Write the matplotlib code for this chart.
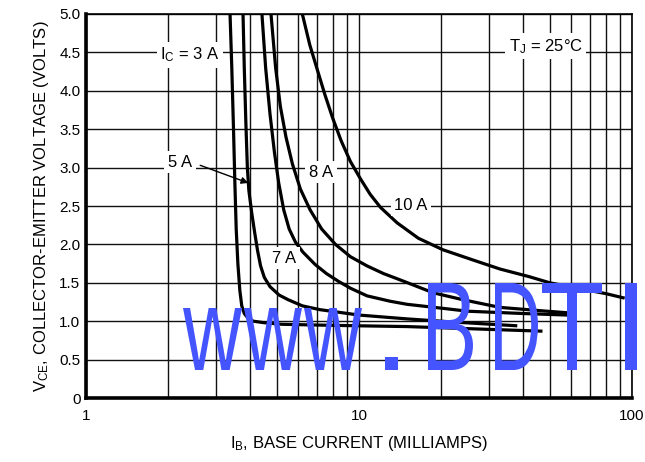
import matplotlib
matplotlib.use("Agg")
import matplotlib.pyplot as plt
from matplotlib.textpath import TextPath
from matplotlib.patches import PathPatch
from matplotlib.font_manager import FontProperties
from matplotlib.transforms import Affine2D, IdentityTransform
from matplotlib.ticker import FixedLocator, LogLocator, NullFormatter

plt.rcParams["font.family"] = ["Liberation Sans Narrow", "Liberation Sans", "DejaVu Sans"]
plt.rcParams["mathtext.fontset"] = "custom"
plt.rcParams["mathtext.rm"] = "Liberation Sans"
plt.rcParams["mathtext.it"] = "Liberation Sans"

# ---------------- data ---------------- #

ib_3a = [3.37, 3.42, 3.47, 3.51, 3.55, 3.60, 3.66, 3.72, 3.80, 3.92, 4.1, 4.5, 5.2, 7, 10, 15, 22, 32, 47]
vce_3a = [5.0, 4.3, 3.5, 2.8, 2.2, 1.75, 1.4, 1.2, 1.1, 1.04, 1.0, 0.98, 0.96, 0.95, 0.94, 0.93, 0.91, 0.89, 0.87]

ib_5a = [3.76, 3.80, 3.85, 3.90, 3.95, 4.05, 4.15, 4.25, 4.36, 4.5, 4.72, 5.1, 5.5, 6.2, 7.2, 10, 15, 22, 38]
vce_5a = [5.0, 4.3, 3.6, 3.0, 2.7, 2.4, 2.15, 1.92, 1.72, 1.57, 1.45, 1.34, 1.28, 1.2, 1.15, 1.08, 1.03, 0.99, 0.94]

ib_7a = [4.41, 4.55, 4.72, 4.9, 5.08, 5.3, 5.55, 5.85, 6.23, 6.9, 7.6, 8.4, 9.3, 10.7, 13, 15, 20, 25, 40, 58]
vce_7a = [5.0, 4.3, 3.7, 3.2, 2.8, 2.45, 2.2, 2.03, 1.9, 1.74, 1.62, 1.52, 1.43, 1.33, 1.26, 1.22, 1.17, 1.13, 1.1, 1.08]

ib_8a = [4.76, 4.95, 5.15, 5.4, 5.7, 6.1, 6.62, 7.3, 8.2, 9.3, 10.7, 12.3, 14.1, 18.7, 24, 32.8, 45, 57.8]
vce_8a = [5.0, 4.3, 3.8, 3.4, 3.05, 2.72, 2.45, 2.2, 2.0, 1.84, 1.72, 1.62, 1.54, 1.37, 1.28, 1.18, 1.14, 1.11]

ib_10a = [6.2, 6.6, 7.0, 7.5, 8.0, 8.6, 9.3, 10.1, 11.0, 12.0, 13.8, 16.5, 20.3, 26, 32.8, 42, 50, 65, 80, 94]
vce_10a = [5.0, 4.6, 4.3, 3.95, 3.65, 3.35, 3.08, 2.86, 2.65, 2.48, 2.28, 2.08, 1.93, 1.8, 1.68, 1.58, 1.5, 1.42, 1.36, 1.30]

y_ticks = [0, 0.5, 1.0, 1.5, 2.0, 2.5, 3.0, 3.5, 4.0, 4.5, 5.0]
y_tick_labels = ["0", "0.5", "1.0", "1.5", "2.0", "2.5", "3.0", "3.5", "4.0", "4.5", "5.0"]
x_ticks = [1, 10, 100]
x_tick_labels = ["1", "10", "100"]

# ---------------- figure ---------------- #

fig = plt.figure(figsize=(6.45, 4.62), dpi=100)
ax = fig.add_axes([86 / 645, 64 / 462, 546 / 645, 384 / 462])

ax.set_xscale("log")
ax.set_xlim(1, 100)
ax.set_ylim(0, 5)

ax.xaxis.set_major_locator(FixedLocator(x_ticks))
ax.set_xticklabels(x_tick_labels)
ax.xaxis.set_minor_locator(LogLocator(base=10, subs=range(2, 10)))
ax.xaxis.set_minor_formatter(NullFormatter())
ax.set_yticks(y_ticks)
ax.set_yticklabels(y_tick_labels)
ax.tick_params(which="both", length=0, labelsize=11)
ax.tick_params(axis="x", pad=8)
ax.tick_params(axis="y", pad=4)

ax.grid(True, which="both", axis="x", color="#111111", linewidth=1.0)
ax.grid(True, which="major", axis="y", color="#111111", linewidth=1.0)
ax.set_axisbelow(True)

for side in ["left", "bottom"]:
    ax.spines[side].set_linewidth(2.6)
for side in ["top", "right"]:
    ax.spines[side].set_linewidth(1.2)

for ib, vce in [(ib_3a, vce_3a), (ib_5a, vce_5a), (ib_7a, vce_7a),
                (ib_8a, vce_8a), (ib_10a, vce_10a)]:
    ax.plot(ib, vce, color="black", linewidth=2.3, zorder=4,
            solid_capstyle="butt", solid_joinstyle="round")

box = dict(facecolor="white", edgecolor="none", pad=2.5)
lab = dict(fontsize=12, ha="center", va="center", bbox=box, zorder=5)
ax.text(2.40, 4.47, r"I$_{\rm C}$ = 3 A", **lab)
ax.text(2.21, 3.07, "5 A", **lab)
ax.text(7.26, 2.94, "8 A", **lab)
ax.text(15.5, 2.51, "10 A", **lab)
ax.text(5.31, 1.82, "7 A", **lab)
ax.text(48.4, 4.58, r"T$_{\rm J}$ = 25°C", **lab)
ax.annotate("", xy=(3.93, 2.80), xytext=(2.62, 3.03),
            arrowprops=dict(arrowstyle="-|>", color="black", lw=1.0,
                            mutation_scale=10, shrinkA=0, shrinkB=0),
            zorder=5)

ax.set_xlabel(r"I$_{\rm B}$, BASE CURRENT (MILLIAMPS)", fontsize=12, labelpad=8)
ax.set_ylabel(r"V$_{\rm CE}$, COLLECTOR-EMITTER VOLTAGE (VOLTS)", fontsize=12, labelpad=6)

# ---------------- watermark ---------------- #

wm_prop = FontProperties(family="Liberation Sans")
wm_color = "#4455FF"
# glyph, left, right, bottom, top (pixels from top-left)
wm_glyphs = [("w", 183, 242, 308, 370), ("w", 244, 302, 308, 370),
             ("w", 304, 362, 308, 370), (".", 385, 398, 357, 370),
             ("B", 428, 473, 283, 370), ("D", 495, 538, 283, 370),
             ("T", 542, 602, 283, 370), ("I", 625, 637, 283, 370)]
H = 462
for ch, x0, x1, y0, y1 in wm_glyphs:
    tp = TextPath((0, 0), ch, size=100, prop=wm_prop)
    ext = tp.get_extents()
    tr = (Affine2D()
          .translate(-ext.x0, -ext.y0)
          .scale((x1 - x0) / ext.width, (y1 - y0) / ext.height)
          .translate(x0, H - y1))
    patch = PathPatch(tr.transform_path(tp), facecolor=wm_color,
                      edgecolor="none", transform=IdentityTransform(), zorder=3)
    fig.patches.append(patch)

fig.savefig("out.png", dpi=100)
